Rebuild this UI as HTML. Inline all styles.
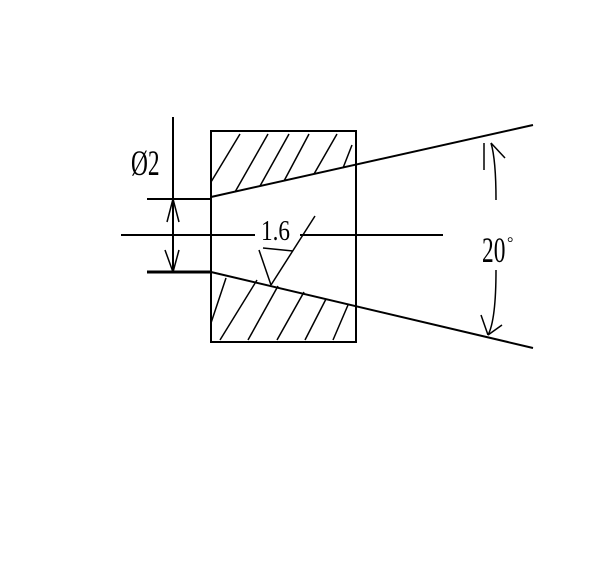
<!DOCTYPE html>
<html><head><style>body{margin:0;background:#fff}</style></head><body>
<svg width="600" height="556" viewBox="0 0 600 556" xmlns="http://www.w3.org/2000/svg">
<rect width="600" height="556" fill="#fff"/>
<g stroke="#000" fill="none" stroke-width="2">
<rect x="211" y="131" width="145" height="211"/>
<line x1="173" y1="117" x2="173" y2="272"/>
<line x1="147" y1="199" x2="211" y2="199"/>
<line x1="147" y1="272" x2="211" y2="272" stroke-width="3"/>
<line x1="121" y1="235" x2="255" y2="235"/>
<line x1="300" y1="235" x2="443" y2="235"/>
<line x1="211" y1="197" x2="533" y2="125"/>
<line x1="211" y1="272" x2="533" y2="348"/>
<g stroke-width="1.5">
<line x1="211" y1="182" x2="240" y2="134"/>
<line x1="235" y1="192" x2="268" y2="134"/>
<line x1="260" y1="186" x2="289" y2="134"/>
<line x1="284" y1="181" x2="309" y2="134"/>
<line x1="314" y1="174" x2="337" y2="134"/>
<line x1="343" y1="168" x2="352" y2="145"/>
<line x1="211" y1="323" x2="226" y2="278"/>
<line x1="220" y1="340" x2="257" y2="280"/>
<line x1="248" y1="340" x2="278" y2="286"/>
<line x1="277" y1="340" x2="304" y2="292"/>
<line x1="305" y1="340" x2="326" y2="299"/>
<line x1="333" y1="340" x2="348" y2="305"/>
<line x1="259" y1="250" x2="271" y2="285"/>
<line x1="271" y1="285" x2="315" y2="216"/>
<line x1="263" y1="248" x2="293" y2="251"/>
<line x1="173" y1="199" x2="167" y2="222"/><line x1="173" y1="199" x2="179" y2="222"/>
<line x1="173" y1="272" x2="165" y2="250"/><line x1="173" y1="272" x2="179" y2="250"/>
<path d="M491 143 Q496 160 496 200"/>
<path d="M496 270 Q496 320 488 335"/>
<line x1="484" y1="143" x2="484" y2="170"/>
<line x1="491" y1="143" x2="505" y2="158"/>
<line x1="488" y1="335" x2="481" y2="315"/>
<line x1="488" y1="335" x2="502" y2="325"/>
</g>
</g>
<g font-family="Liberation Serif, serif" fill="#000">
<text transform="translate(131,175) scale(0.65,1)" font-size="36">Ø2</text>
<text transform="translate(261,240) scale(0.8,1)" font-size="29">1.6</text>
<text transform="translate(482,262) scale(0.65,1)" font-size="36">20</text>
<text x="507" y="248" font-size="16">°</text>
</g>
</svg>
</body></html>
